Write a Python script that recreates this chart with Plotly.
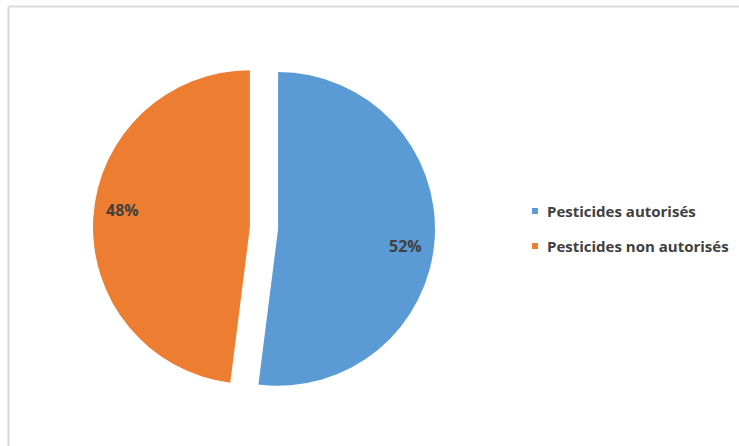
import math
import plotly.graph_objects as go

labels = ["Pesticides autorisés", "Pesticides non autorisés"]
values = [52, 48]
colors = ["#5B9BD5", "#ED7D31"]
pulls = [0.09, 0.09]

W, H = 739, 446
TEXT_COLOR = "#404040"

# pie domain in pixels (left, top, right, bottom)
DOM = (93, 57, 435, 399)

fig = go.Figure(go.Pie(
    labels=labels,
    values=values,
    marker=dict(colors=colors, line=dict(width=0)),
    pull=pulls,
    sort=False,
    direction="clockwise",
    rotation=0,
    textinfo="none",
    domain=dict(x=[DOM[0] / W, DOM[2] / W], y=[1 - DOM[3] / H, 1 - DOM[1] / H]),
    hoverinfo="label+percent",
    showlegend=False,
))

# percentage labels placed towards the outer end of each slice
cx = (DOM[0] + DOM[2]) / 2
cy = (DOM[1] + DOM[3]) / 2
r = min(DOM[2] - DOM[0], DOM[3] - DOM[1]) / 2 / (1 + max(pulls))
total = sum(values)
annotations = []
cum = 0.0
for lab, v, p in zip(labels, values, pulls):
    mid = (cum + v / 2) / total * 2 * math.pi
    cum += v
    sx = cx + p * r * math.sin(mid)
    sy = cy - p * r * math.cos(mid)
    ang = mid + math.radians(4)
    px = sx + 0.82 * r * math.sin(ang)
    py = sy - 0.82 * r * math.cos(ang)
    annotations.append(dict(
        x=px / W, y=1 - py / H, xref="paper", yref="paper",
        text=f"{round(v / total * 100)}%", showarrow=False,
        xanchor="center", yanchor="middle",
        font=dict(family="Open Sans", size=16, color=TEXT_COLOR, weight="bold"),
    ))

# legend drawn manually (square marker + label)
shapes = [
    dict(type="line", xref="paper", yref="paper",
         x0=8.5 / W, x1=1, y0=1 - 6.5 / H, y1=1 - 6.5 / H,
         line=dict(color="#D9D9D9", width=2)),
    dict(type="line", xref="paper", yref="paper",
         x0=8.5 / W, x1=8.5 / W, y0=0, y1=1 - 6.5 / H,
         line=dict(color="#D9D9D9", width=2)),
]
LEG_X, LEG_Y0, LEG_DY, SQ = 532, 211, 35, 6
for i, (lab, col) in enumerate(zip(labels, colors)):
    yc = LEG_Y0 + i * LEG_DY
    shapes.append(dict(
        type="rect", xref="paper", yref="paper",
        x0=LEG_X / W, x1=(LEG_X + SQ) / W,
        y0=1 - (yc + SQ / 2) / H, y1=1 - (yc - SQ / 2) / H,
        fillcolor=col, line=dict(width=0),
    ))
    annotations.append(dict(
        x=(LEG_X + SQ + 7) / W, y=1 - yc / H, xref="paper", yref="paper",
        text=lab, showarrow=False, xanchor="left", yanchor="middle",
        font=dict(family="Open Sans", size=15, color=TEXT_COLOR, weight="bold"),
    ))

fig.update_layout(
    width=W, height=H,
    margin=dict(l=0, r=0, t=0, b=0),
    paper_bgcolor="white",
    plot_bgcolor="white",
    showlegend=False,
    shapes=shapes,
    annotations=annotations,
)

fig.write_html(
    "out.html",
    config={"displayModeBar": False},
    post_script="document.body.style.margin='0';document.body.style.overflow='hidden';",
)
